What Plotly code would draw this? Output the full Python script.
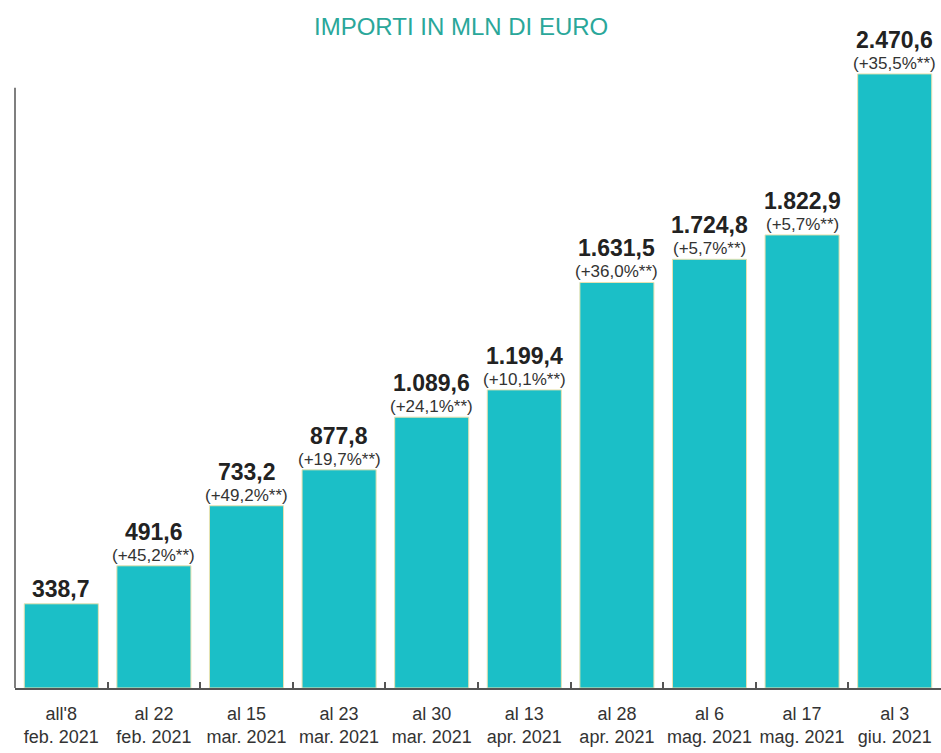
import plotly.graph_objects as go

categories = ["all'8<br>feb. 2021", "al 22<br>feb. 2021", "al 15<br>mar. 2021", "al 23<br>mar. 2021",
              "al 30<br>mar. 2021", "al 13<br>apr. 2021", "al 28<br>apr. 2021", "al 6<br>mag. 2021",
              "al 17<br>mag. 2021", "al 3<br>giu. 2021"]
values = [338.7, 491.6, 733.2, 877.8, 1089.6, 1199.4, 1631.5, 1724.8, 1822.9, 2470.6]
value_labels = ["338,7", "491,6", "733,2", "877,8", "1.089,6", "1.199,4", "1.631,5", "1.724,8", "1.822,9", "2.470,6"]
pct_labels = [None, "(+45,2%**)", "(+49,2%**)", "(+19,7%**)", "(+24,1%**)", "(+10,1%**)",
              "(+36,0%**)", "(+5,7%**)", "(+5,7%**)", "(+35,5%**)"]
title_text = "IMPORTI IN MLN DI EURO"

FONT = "Liberation Sans, Arial, sans-serif"

fig = go.Figure(go.Bar(
    x=categories, y=values, marker=dict(color="#1bbfc7", line=dict(color="#e8e2b0", width=1)),
    width=0.8, hoverinfo="skip"))

annotations = []
for c, v, vl, pl in zip(categories, values, value_labels, pct_labels):
    if pl:
        annotations.append(dict(x=c, y=v, xref="x", yref="y", text=pl, showarrow=False,
                                yanchor="bottom", yshift=-1,
                                font=dict(family=FONT, size=17, color="#333333")))
        shift = 19
    else:
        shift = 0
    annotations.append(dict(x=c, y=v, xref="x", yref="y", text="<b>" + vl + "</b>", showarrow=False,
                            yanchor="bottom", yshift=shift,
                            font=dict(family=FONT, size=23, color="#222222")))

annotations.append(dict(x=(461 - 15) / 926, y=(688 - 27) / 688, xref="paper", yref="paper",
                        xanchor="center", yanchor="middle", text=title_text, showarrow=False,
                        font=dict(family=FONT, size=24, color="#2aa79a")))

fig.update_layout(
    width=941, height=753,
    margin=dict(l=15, r=0, t=0, b=65, autoexpand=False),
    paper_bgcolor="white", plot_bgcolor="white",
    showlegend=False,
    annotations=annotations,
    bargap=0.2,
    xaxis=dict(showline=True, linecolor="#555555", linewidth=2, ticks="inside", tickson="boundaries",
               ticklen=6, tickcolor="#555555", tickwidth=1.5, showgrid=False, tickangle=0,
               automargin=False, ticklabelstandoff=8,
               tickfont=dict(family=FONT, size=18, color="#333333")),
    yaxis=dict(range=[0, 2768], visible=False, showgrid=False, automargin=False),
    shapes=[dict(type="line", xref="paper", yref="y", x0=0, x1=0, y0=0, y1=2415,
                 line=dict(color="#555555", width=1.5))],
)

fig.write_html("out.html")
